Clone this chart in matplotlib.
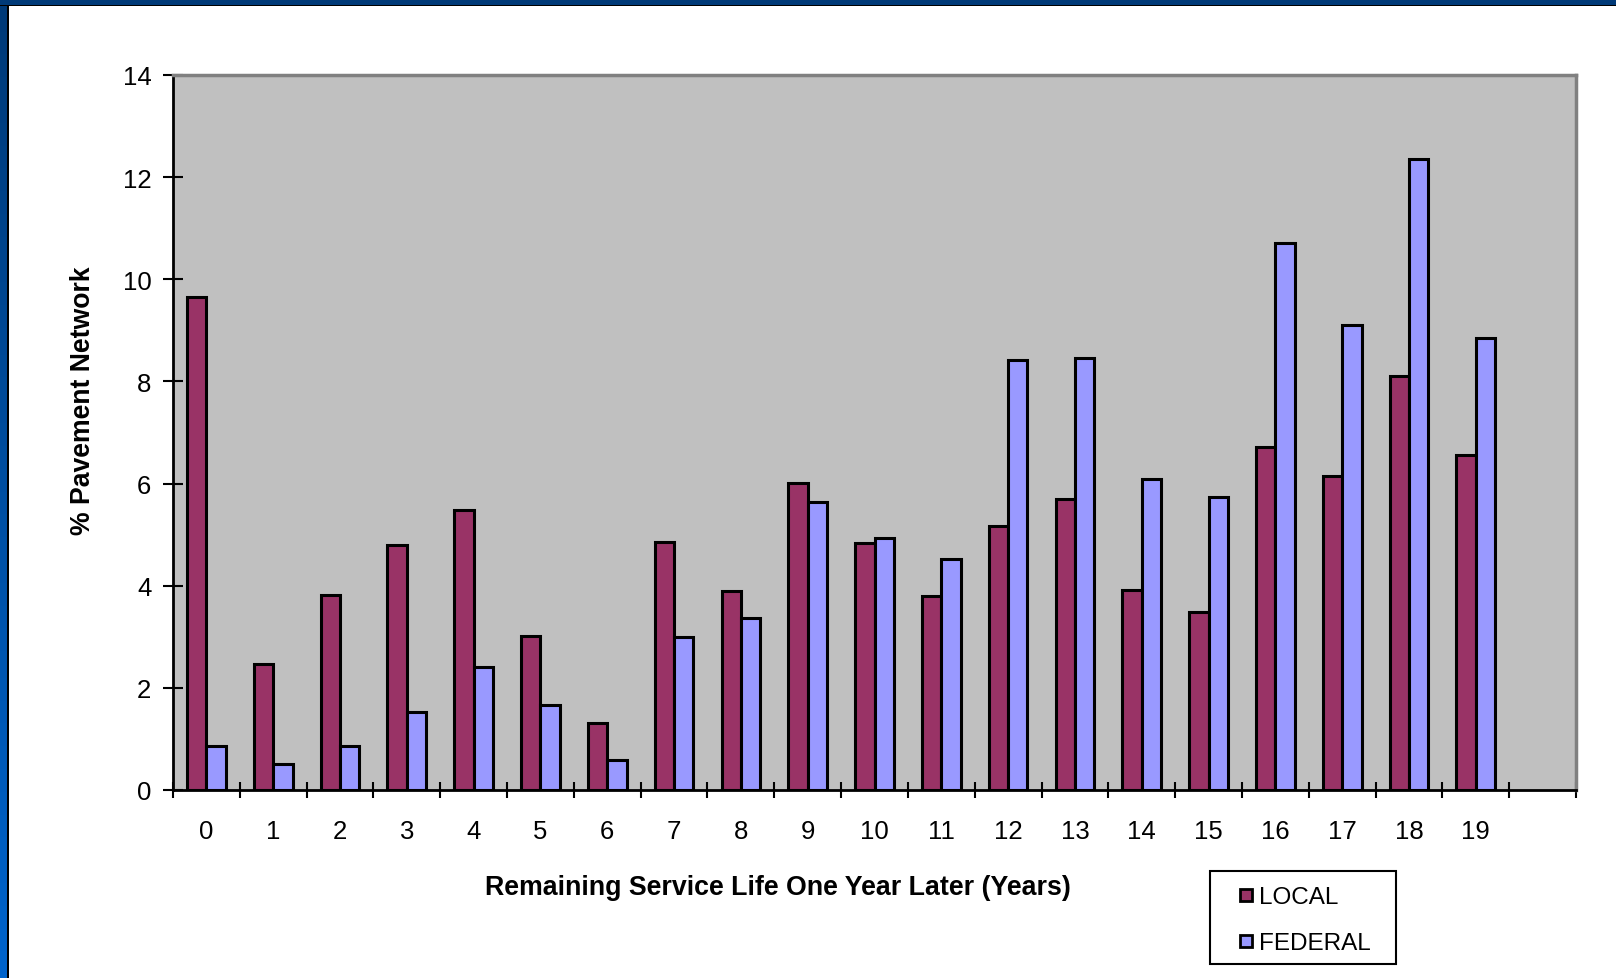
import matplotlib
matplotlib.use("Agg")
import matplotlib.pyplot as plt
import numpy as np
from matplotlib.patches import Rectangle
from matplotlib.colors import LinearSegmentedColormap

plt.rcParams['font.family'] = ['Liberation Sans', 'DejaVu Sans']

# Remaining service life categories (an empty slot follows 19 on the axis)
years = list(range(20))
year_labels = [str(y) for y in years]
local = [9.66, 2.46, 3.81, 4.80, 5.49, 3.01, 1.31, 4.86, 3.89, 6.01,
         4.84, 3.79, 5.16, 5.69, 3.91, 3.49, 6.72, 6.15, 8.11, 6.56]
federal = [0.87, 0.50, 0.87, 1.53, 2.40, 1.67, 0.59, 2.99, 3.37, 5.63,
           4.94, 4.52, 8.41, 8.45, 6.09, 5.73, 10.71, 9.10, 12.35, 8.86]
series_names = ['LOCAL', 'FEDERAL']
series_colors = ['#993366', '#9999ff']
n_slots = 21

W, H = 1616, 979
fig = plt.figure(figsize=(W / 100, H / 100), dpi=100)
fig.patch.set_facecolor('white')


def px_rect(x0, y0, w, h, **kw):
    """Rectangle given in figure pixels measured from the top-left corner."""
    return Rectangle((x0 / W, 1 - (y0 + h) / H), w / W, h / H,
                     transform=fig.transFigure, **kw)


# Slide frame: dark blue top band and a blue gradient down the left side
fig.patches.append(px_rect(0, 0, W, 6, facecolor='#003a78', edgecolor='none', zorder=0))
fig.patches.append(px_rect(0, 5.5, W, 1.5, facecolor='black', edgecolor='none', zorder=1))
side = fig.add_axes([0, 0, 7 / W, 1 - 6 / H])
side.set_axis_off()
grad = np.linspace(0, 1, 256).reshape(-1, 1)
cmap = LinearSegmentedColormap.from_list('side', ['#0064cc', '#003a78'])
side.imshow(grad, aspect='auto', cmap=cmap, origin='lower', extent=[0, 1, 0, 1])
fig.patches.append(px_rect(7, 6, 1.5, H, facecolor='black', edgecolor='none', zorder=1))

ax = fig.add_axes([173 / W, 1 - 791 / H, (1576 - 173) / W, (791 - 76) / H])
ax.set_facecolor('#c0c0c0')

x = np.arange(len(years))
bw = 0.29
ax.bar(x - bw / 2, local, width=bw, color=series_colors[0], edgecolor='black',
       linewidth=2.2, zorder=3)
ax.bar(x + bw / 2, federal, width=bw, color=series_colors[1], edgecolor='black',
       linewidth=2.2, zorder=3)

ax.set_xlim(-0.5, n_slots - 0.5)
ax.set_ylim(0, 14)
ax.set_yticks(np.arange(0, 15, 2))
ax.set_xticks(np.arange(-0.5, n_slots, 1.0))
ax.set_xticklabels([])
ax.set_xticks(x, minor=True)
ax.set_xticklabels(year_labels, minor=True)

ax.tick_params(axis='x', which='major', direction='inout', length=11, width=1.5,
               color='black')
ax.tick_params(axis='x', which='minor', length=0, labelsize=18.5, pad=21)
ax.tick_params(axis='y', direction='inout', length=15, width=1.5,
               labelsize=18.5, pad=8)

for s in ('left', 'bottom'):
    ax.spines[s].set_color('black')
    ax.spines[s].set_linewidth(2)
for s in ('top', 'right'):
    ax.spines[s].set_color('#808080')
    ax.spines[s].set_linewidth(2.5)

fig.text(83 / W, 1 - 401 / H, '% Pavement Network', rotation=90, ha='center',
         va='center', fontsize=19.2, fontweight='bold')
fig.text(778 / W, 1 - 888 / H, 'Remaining Service Life One Year Later (Years)',
         ha='center', va='center', fontsize=19.3, fontweight='bold')

# Legend box drawn in figure pixels
fig.patches.append(px_rect(1210, 872, 186, 93, facecolor='white', edgecolor='black',
                           linewidth=1.5, zorder=2))
for i, (name, col) in enumerate(zip(series_names, series_colors)):
    yc = 896 + 46 * i
    fig.patches.append(px_rect(1240, yc - 6, 12, 12, facecolor=col, edgecolor='black',
                               linewidth=2, zorder=3))
    fig.text(1259 / W, 1 - yc / H, name, ha='left', va='center_baseline',
             fontsize=17.5, zorder=4)

fig.savefig('out.png', dpi=100, facecolor=fig.get_facecolor())
